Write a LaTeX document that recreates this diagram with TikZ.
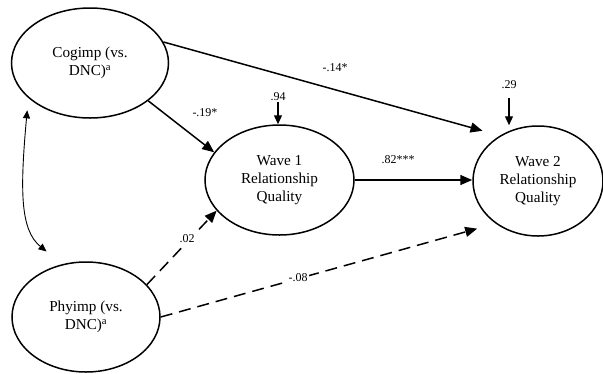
\documentclass[tikz,border=0pt]{standalone}
\usepackage{fontspec}
\setmainfont{Liberation Serif}
\usetikzlibrary{shapes.geometric,arrows.meta,calc}
\begin{document}
\begin{tikzpicture}[x=1pt,y=-1pt,
 lat/.style={ellipse,draw,line width=1.5pt,inner sep=0pt,align=center,font=\fontsize{15.2}{18}\selectfont},
 arr/.style={line width=1.5pt,-{Triangle[length=12pt,width=10pt]}},
 darr/.style={arr,dash pattern=on 12pt off 7pt},
 varr/.style={line width=1.2pt,-{Triangle[length=9pt,width=8pt]}},
 coef/.style={font=\fontsize{12}{14}\selectfont,inner sep=1pt},
 cov/.style={line width=0.9pt,{Triangle[length=8pt,width=7pt]}-{Triangle[length=8pt,width=7pt]}}]
\useasboundingbox (0,0) rectangle (603,373);
\node[lat,minimum width=157pt,minimum height=110pt] (cog) at (90,63) {Cogimp (vs.\\DNC)\textsuperscript{a}};
\node[lat,minimum width=148pt,minimum height=110pt] (phy) at (86,317) {Phyimp (vs.\\DNC)\textsuperscript{a}};
\node[lat,minimum width=149pt,minimum height=110pt] (w1) at (279.5,180) {Wave 1\\Relationship\\Quality};
\node[lat,minimum width=130pt,minimum height=110pt] (w2) at (538,181) {Wave 2\\Relationship\\Quality};
% structural paths
\draw[arr,shorten >=18pt] (cog.16.5) -- (w2.130);
\draw[arr] (cog.327) -- (w1.157);
\draw[arr] (w1.east) -- (w1.east -| w2.west);
\draw[darr] (phy.28) -- (w1.206);
\draw[darr,shorten >=19pt] (phy.east) -- (w2.225);
% covariance
\draw[cov] ([shift={(-8.7pt,-6.6pt)}]cog.217) .. controls (20,190) and (20,230) .. ([shift={(-8.9pt,14.7pt)}]phy.121);
% coefficient labels
\node[coef] (l14) at (335,68) {-.14*};
\node[coef] (l19) at (205,113) {-.19*};
\node[coef] (l82) at (398,160) {.82***};
\node[coef,fill=white] (l02) at (187,239) {.02};
\node[coef,fill=white] (l08) at (298,278) {-.08};
% residuals
\node[coef] (e1) at (278,97) {.94};
\draw[varr] (e1.south) -- (e1.south |- w1.north);
\node[coef] (e2) at (509,85) {.29};
\draw[varr,shorten <=8pt] (e2.south) -- (e2.south |- w2.north);
\end{tikzpicture}
\end{document}
